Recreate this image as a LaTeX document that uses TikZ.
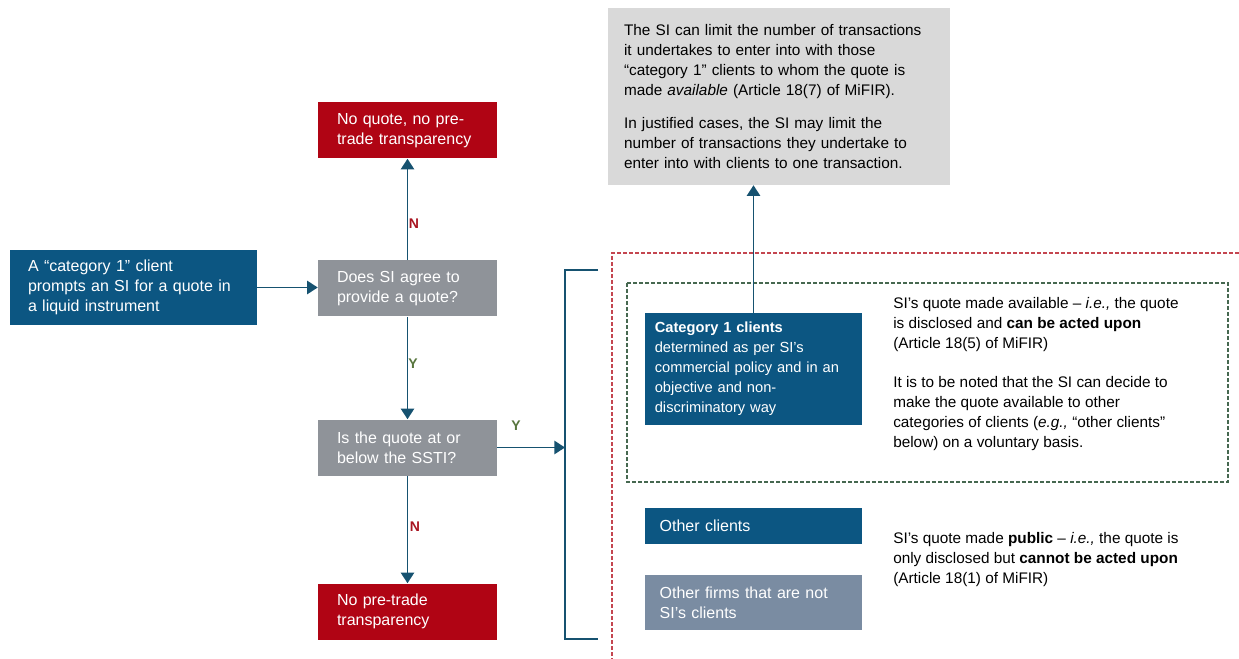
\documentclass[tikz,border=0pt]{standalone}
\usepackage{fontspec}
\setmainfont{Liberation Sans}
\usetikzlibrary{arrows.meta}

\definecolor{esmablue}{RGB}{12,86,130}
\definecolor{decgray}{RGB}{143,147,153}
\definecolor{outred}{RGB}{176,4,20}
\definecolor{notegray}{RGB}{217,217,217}
\definecolor{slateblue}{RGB}{122,140,162}
\definecolor{linkblue}{RGB}{22,82,112}
\definecolor{nored}{RGB}{168,20,32}
\definecolor{yesgreen}{RGB}{88,118,62}
\definecolor{reddash}{RGB}{196,70,80}
\definecolor{greendash}{RGB}{70,104,80}

\begin{document}
\begin{tikzpicture}[x=0.75pt,y=0.75pt,yscale=-1,
    box/.style={rectangle, inner ysep=0pt, align=left, text=white, font=\fontsize{12pt}{15pt}\selectfont},
    dec/.style={box, fill=decgray, text width=105.75pt, inner xsep=14.25pt, minimum height=42pt},
    outc/.style={dec, fill=outred},
    grp/.style={box, text width=140.75pt, inner xsep=11pt},
    note/.style={align=left, inner sep=0pt, font=\fontsize{11.5pt}{15pt}\selectfont},
    arr/.style={draw=linkblue, line width=1.4pt, -{Triangle[length=8pt,width=10pt]}},
    link/.style={draw=linkblue, line width=1.4pt},
    yn/.style={font=\bfseries\fontsize{10.5pt}{12pt}\selectfont, inner sep=0pt}]
    \useasboundingbox (0,0) rectangle (1239,659);

    %Shape: Rectangle [prompt]
    \node[box, fill=esmablue, text width=158.25pt, inner xsep=13.5pt, minimum height=56.25pt] (prompt) at (133.5,287.5) {A “category 1” client\\prompts an SI for a quote in\\a liquid instrument};

    %Shape: Rectangle [decisions and outcomes]
    \node[outc] (noquote) at (407.5,130.5) {No quote, no pre-\\trade transparency};
    \node[dec] (agree) at (407.5,288.5) {Does SI agree to\\provide a quote?};
    \node[dec] (sstiq) at (407.5,447.5) {Is the quote at or\\below the SSTI?};
    \node[outc] (nopretrade) at (407.5,611.5) {No pre-trade\\transparency};

    %Shape: Rectangle [limit note]
    \node[box, fill=notegray, text=black, text width=232.5pt, inner xsep=12pt, minimum height=132.75pt, font=\fontsize{11.5pt}{15pt}\selectfont] (limitnote) at (779,96.5) {The SI can limit the number of transactions\\it undertakes to enter into with those\\“category 1” clients to whom the quote is\\made \textit{available} (Article 18(7) of MiFIR).\\[10pt]In justified cases, the SI may limit the\\number of transactions they undertake to\\enter into with clients to one transaction.};

    %Dashed frames
    \draw[draw=reddash, line width=0.8pt, dash pattern=on 3pt off 1.5pt] (1239,253) -- (612,253) -- (612,659);
    \draw[draw=greendash, line width=0.8pt, dash pattern=on 3pt off 1.5pt] (627,283) rectangle (1228,482);

    %Shape: Rectangle [client groups]
    \node[grp, fill=esmablue, text width=148pt, inner xsep=7.4pt, minimum height=84pt, font=\fontsize{11pt}{15pt}\selectfont] (cat1) at (753.5,369) {\textbf{Category 1 clients}\\determined as per SI’s\\commercial policy and in an\\objective and non-\\discriminatory way};
    \node[grp, fill=esmablue, minimum height=27pt] (otherclients) at (753.5,526) {Other clients};
    \node[grp, fill=slateblue, minimum height=41.25pt] (otherfirms) at (753.5,602.5) {Other firms that are not\\SI’s clients};

    % Text Node
    \node[note, anchor=north west] (availtext) at (893,297) {SI’s quote made available – \textit{i.e.,} the quote\\is disclosed and \textbf{can be acted upon}\\(Article 18(5) of MiFIR)\\[14pt]It is to be noted that the SI can decide to\\make the quote available to other\\categories of clients (\textit{e.g.,} “other clients”\\below) on a voluntary basis.};
    % Text Node
    \node[note, anchor=north west] (publictext) at (893,532) {SI’s quote made \textbf{public} – \textit{i.e.,} the quote is\\only disclosed but \textbf{cannot be acted upon}\\(Article 18(1) of MiFIR)};

    %Bracket
    \coordinate (brtop) at (565,270);
    \coordinate (brbot) at (565,639);
    \coordinate (brtopend) at (598,270);
    \coordinate (brbotend) at (598,639);
    \draw[link] (brtopend) -- (brtop) -- (brbot) -- (brbotend);

    %Arrows
    \draw[arr] (prompt.east) -- (prompt.east -| agree.west);
    \draw[arr] (agree) -- (noquote);
    \draw[arr] (agree) -- (sstiq);
    \draw[arr] (sstiq) -- (nopretrade);
    \draw[arr] (sstiq.east) -- (sstiq.east -| brtop);
    \draw[arr] (cat1.north) -- (cat1.north |- limitnote.south);

    % Y / N labels
    \node[yn, text=nored] (n1) at (414,224) {N};
    \node[yn, text=yesgreen] (y1) at (413,364) {Y};
    \node[yn, text=yesgreen] (y2) at (516,426) {Y};
    \node[yn, text=nored] (n2) at (415,527) {N};
\end{tikzpicture}
\end{document}
